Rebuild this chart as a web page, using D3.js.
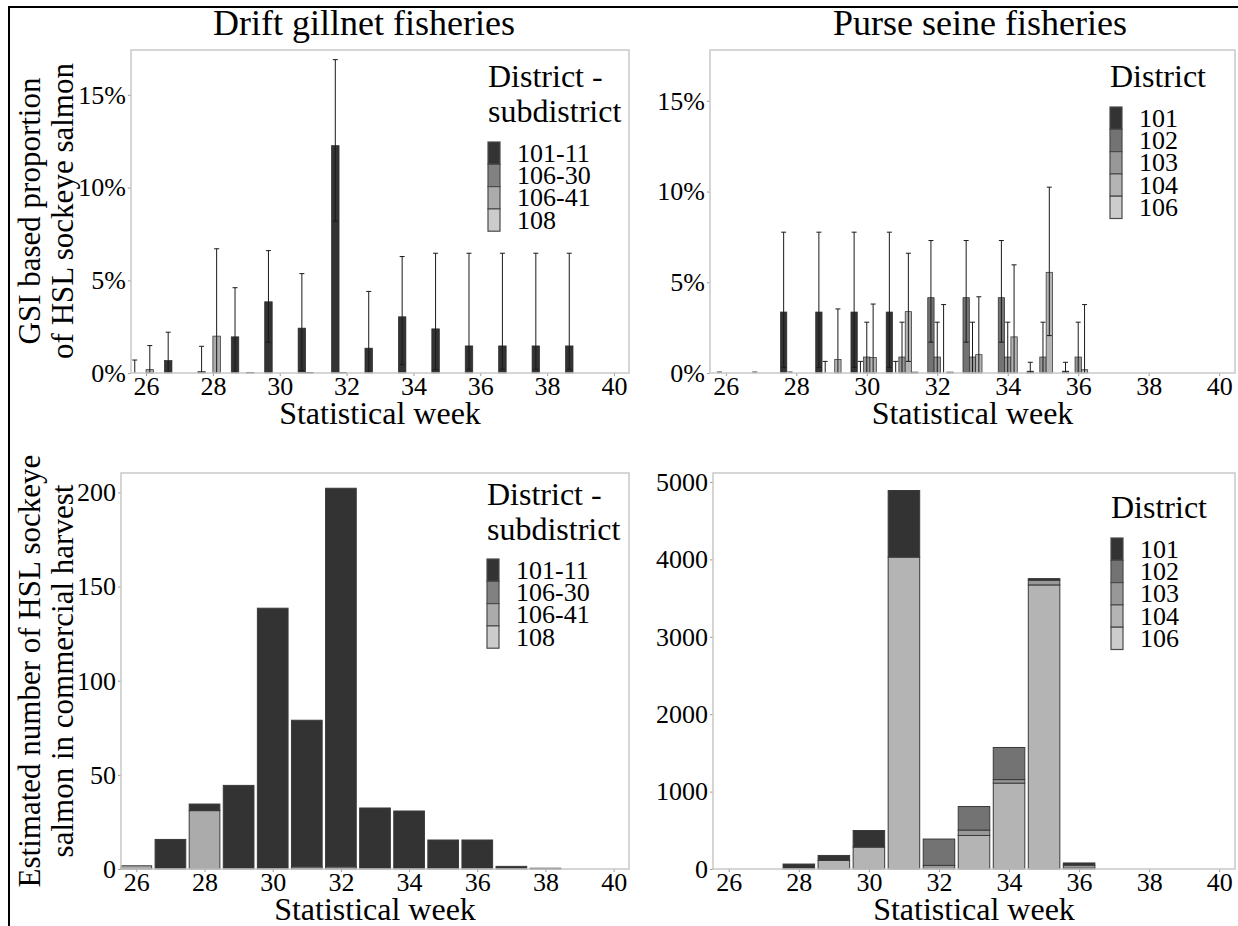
<!DOCTYPE html>
<meta charset="utf-8">
<style>
body { margin: 0; background: #fff; }
svg { display: block; }
svg text { font-family: "Liberation Serif", "Times New Roman", Times, serif; fill: #000; }
.axis text { font-size: 26px; }
.axis line { stroke: #9a9a9a; }
.axis path { display: none; }
.frame { fill: none; stroke: #c8c8c8; stroke-width: 1.5px; }
</style>
<body>
<script src="https://d3js.org/d3.v7.min.js"></script>
<script>

const SERIF = "Liberation Serif, Times New Roman, Times, serif";

// statistical weeks on the x axis
const weeks = d3.range(26, 41);
const weekTicks = [26, 28, 30, 32, 34, 36, 38, 40];

// drift gillnet: district - subdistrict
const gnDistricts = ["101-11", "106-30", "106-41", "108"];
const gnColors = ["#333333", "#818181", "#ababab", "#cccccc"];

// GSI proportion (%) by week, with lower / upper interval
const gnPct_101_11  = [0, 0.67, 0.07, 1.95, 3.84, 2.42, 12.26, 1.34, 3.03, 2.38, 1.46, 1.46, 1.46, 1.46, 0];
const gnLow_101_11  = [0, 0, 0, 0.04, 1.66, 0.13, 8.18, 0, 0.45, 0.18, 0.2, 0.2, 0.2, 0.2, null];
const gnHigh_101_11 = [0.7, 2.2, 1.44, 4.6, 6.6, 5.36, 16.9, 4.4, 6.28, 6.46, 6.46, 6.46, 6.46, 6.46, null];
const gnPct_106_30  = [0, 0, 0, 0, 0, 0.03, 0.03, 0, 0, 0, 0, 0, 0, 0, 0];
const gnPct_106_41  = [0.18, 0, 1.99, 0.02, 0, 0, 0, 0, 0, 0, 0, 0, 0, 0, 0];
const gnLow_106_41  = [0, null, 0, null, null, null, null, null, null, null, null, null, null, null, null];
const gnHigh_106_41 = [1.48, null, 6.7, null, null, null, null, null, null, null, null, null, null, null, null];
const gnPct_108     = [0, 0, 0, 0, 0, 0, 0, 0, 0, 0, 0, 0, 0, 0, 0];

// estimated number of HSL sockeye in drift gillnet harvest
const gnNum_101_11 = [0, 15.7, 3.5, 44.4, 138.5, 77.8, 201, 32.4, 30.8, 15.4, 15.4, 1.4, 0.4, 0, 0];
const gnNum_106_30 = [0, 0, 0, 0, 0, 1.2, 1.2, 0, 0, 0, 0, 0, 0, 0, 0];
const gnNum_106_41 = [1.7, 0, 31, 0, 0, 0, 0, 0, 0, 0, 0, 0, 0, 0, 0];
const gnNum_108    = [0, 0, 0, 0, 0, 0, 0, 0, 0, 0, 0, 0, 0, 0, 0];

// purse seine: district
const psDistricts = ["101", "102", "103", "104", "106"];
const psColors = ["#333333", "#737373", "#989898", "#b4b4b4", "#cccccc"];

const psPct_101  = [0, 0, 3.36, 3.36, 3.36, 3.36, 0, 0, 0, 0.1, 0.1, 0, 0, 0, 0];
const psLow_101  = [null, null, 0.31, 0.31, 0.31, 0.31, null, null, null, 0, 0, null, null, null, null];
const psHigh_101 = [null, null, 7.76, 7.76, 7.76, 7.76, null, null, null, 0.59, 0.59, null, null, null, null];
const psPct_102  = [0, 0, 0, 0, 0, 0, 4.15, 4.15, 4.15, 0, 0, 0, 0, 0, 0];
const psLow_102  = [0, 0, 0, 0, 0, 0, 1.7, 1.7, 1.7, null, null, null, null, null, null];
const psHigh_102 = [0.05, 0.05, 0.05, 0.64, 0.64, 0.64, 7.3, 7.3, 7.3, null, null, null, null, null, null];
const psPct_103  = [0, 0, 0, 0, 0.88, 0.88, 0.88, 0.88, 0.88, 0.88, 0.88, 0, 0, 0, 0];
const psLow_103  = [null, null, null, null, 0, 0, 0, 0, 0, 0, 0, null, null, null, null];
const psHigh_103 = [null, null, null, null, 2.8, 2.8, 2.8, 2.8, 2.8, 2.8, 2.8, null, null, null, null];
const psPct_104  = [0, 0, 0, 0.74, 0.85, 3.38, 0, 1.01, 1.99, 5.55, 0.18, 0, 0, 0, 0];
const psLow_104  = [null, null, null, 0, 0, 0.64, 0, 0, 0, 2.06, 0, null, null, null, null];
const psHigh_104 = [null, null, null, 3.53, 3.8, 6.6, 3.77, 4.2, 5.96, 10.24, 3.77, null, null, null, null];
const psPct_106  = [0, 0, 0, 0, 0, 0.05, 0.05, 0, 0, 0, 0, 0, 0, 0, 0];

// estimated number of HSL sockeye in purse seine harvest
const psNum_101 = [0, 0, 64, 64, 214, 861, 0, 0, 0, 22, 28, 0, 0, 0, 0];
const psNum_102 = [0, 0, 0, 0, 0, 0, 340, 304, 415, 0, 0, 0, 0, 0, 0];
const psNum_103 = [0, 0, 0, 0, 0, 0, 47, 70, 45, 60, 40, 0, 0, 0, 0];
const psNum_104 = [0, 0, 0, 111, 283, 4029, 0, 433, 1110, 3670, 10, 0, 0, 0, 0];
const psNum_106 = [0, 0, 0, 0, 0, 0, 0, 0, 0, 0, 0, 0, 0, 0, 0];

const pctTicks = [0, 5, 10, 15];
const gnNumTicks = [0, 50, 100, 150, 200];
const psNumTicks = [0, 1000, 2000, 3000, 4000, 5000];

const W = 1238, H = 926;
const svg = d3.select("body").append("svg").attr("width", W).attr("height", H)
    .attr("font-family", SERIF);

// outer figure frame (only top and left edges are inside the picture)
svg.append("path")
    .attr("d", "M9,940 V7 H1250")
    .attr("fill", "none").attr("stroke", "#000").attr("stroke-width", 2);

// column titles
svg.append("text").attr("x", 364).attr("y", 35).attr("text-anchor", "middle")
    .style("font-size", "36px").text("Drift gillnet fisheries");
svg.append("text").attr("x", 980).attr("y", 35).attr("text-anchor", "middle")
    .style("font-size", "36px").text("Purse seine fisheries");

// y titles (two lines, rotated)
function yTitle(lines, cy) {
  lines.forEach((t, i) => {
    const x = 40 + i * 33;
    svg.append("text")
      .attr("transform", `translate(${x},${cy}) rotate(-90)`)
      .attr("text-anchor", "middle")
      .style("font-size", "31px")
      .text(t);
  });
}
yTitle(["GSI based proportion", "of HSL sockeye salmon"], 211);
yTitle(["Estimated number of HSL sockeye", "salmon in commercial harvest"], 671);

function makePanel(box, yMax, yTicks, yFmt) {
  const x = d3.scaleLinear().domain([25.55, 40.45]).range([box.x0, box.x1]);
  const y = d3.scaleLinear().domain([0, yMax]).range([box.y1, box.y0]);
  const g = svg.append("g");

  g.append("g").attr("class", "axis")
    .attr("transform", `translate(${box.x0},0)`)
    .call(d3.axisLeft(y).tickValues(yTicks).tickFormat(yFmt).tickSize(3).tickPadding(2))
    .attr("font-family", SERIF).attr("font-size", 26);

  g.append("g").attr("class", "axis")
    .attr("transform", `translate(0,${box.y1})`)
    .call(d3.axisBottom(x).tickValues(weekTicks).tickFormat(d3.format("d")).tickSize(3).tickPadding(1))
    .attr("font-family", SERIF).attr("font-size", 26);

  g.append("text")
    .attr("x", (box.x0 + box.x1) / 2).attr("y", box.y1 + 51)
    .attr("text-anchor", "middle").style("font-size", "32px")
    .text("Statistical week");

  return {x, y, g, box};
}

function frame(p) {
  p.g.append("rect").attr("class", "frame")
    .attr("x", p.box.x0).attr("y", p.box.y0)
    .attr("width", p.box.x1 - p.box.x0).attr("height", p.box.y1 - p.box.y0);
}

// dodged bars with error bars
function dodged(p, series, colors) {
  const n = series.length, bw = 0.9 / n;
  series.forEach((s, i) => {
    const off = -0.45 + (i + 0.5) * bw;
    const rows = weeks.map((w, k) => ({w, v: s.v[k], lo: s.lo ? s.lo[k] : null, hi: s.hi ? s.hi[k] : null}));
    p.g.append("g").selectAll("rect")
      .data(rows.filter(d => d.v > 0))
      .join("rect")
      .attr("x", d => p.x(d.w + off - bw / 2))
      .attr("width", d => p.x(d.w + off + bw / 2) - p.x(d.w + off - bw / 2))
      .attr("y", d => p.y(d.v))
      .attr("height", d => p.y(0) - p.y(d.v))
      .attr("fill", colors[i])
      .attr("stroke", "#2a2a2a").attr("stroke-width", 0.7);

    const eb = rows.filter(d => d.hi != null);
    const cap = 2.5;
    const eg = p.g.append("g").attr("stroke", "#1a1a1a").attr("stroke-width", 1);
    eg.selectAll("line.v").data(eb).join("line").attr("class", "v")
      .attr("x1", d => p.x(d.w + off)).attr("x2", d => p.x(d.w + off))
      .attr("y1", d => p.y(d.lo || 0)).attr("y2", d => p.y(d.hi));
    eg.selectAll("line.t").data(eb).join("line").attr("class", "t")
      .attr("x1", d => p.x(d.w + off) - cap).attr("x2", d => p.x(d.w + off) + cap)
      .attr("y1", d => p.y(d.hi)).attr("y2", d => p.y(d.hi));
    eg.selectAll("line.b").data(eb.filter(d => d.lo > 0)).join("line").attr("class", "b")
      .attr("x1", d => p.x(d.w + off) - cap).attr("x2", d => p.x(d.w + off) + cap)
      .attr("y1", d => p.y(d.lo)).attr("y2", d => p.y(d.lo));
  });
}

// stacked bars: first level on top, last level at the bottom
function stacked(p, keys, arrays, colors) {
  const table = weeks.map((w, k) => {
    const row = {w};
    keys.forEach((key, i) => row[key] = arrays[i][k]);
    return row;
  });
  const order = keys.slice().reverse();
  const stack = d3.stack().keys(order)(table);
  stack.forEach(layer => {
    const ci = keys.indexOf(layer.key);
    p.g.append("g").selectAll("rect")
      .data(layer.filter(d => d[1] - d[0] > 0))
      .join("rect")
      .attr("x", d => p.x(d.data.w - 0.45))
      .attr("width", d => p.x(d.data.w + 0.45) - p.x(d.data.w - 0.45))
      .attr("y", d => p.y(d[1]))
      .attr("height", d => p.y(d[0]) - p.y(d[1]))
      .attr("fill", colors[ci])
      .attr("stroke", "#3a3a3a").attr("stroke-width", 1);
  });
}

function legend(x, titleLines, titleY, keyTop, labels, colors) {
  const lg = svg.append("g");
  titleLines.forEach((t, i) => {
    lg.append("text").attr("x", x).attr("y", titleY + i * 35)
      .style("font-size", "32px").text(t);
  });
  const kh = 22.3;
  lg.selectAll("rect").data(labels).join("rect")
    .attr("x", x).attr("y", (d, i) => keyTop + i * kh)
    .attr("width", 12).attr("height", kh)
    .attr("fill", (d, i) => colors[i])
    .attr("stroke", "#4a4a4a").attr("stroke-width", 1.2);
  lg.selectAll("text.lab").data(labels).join("text").attr("class", "lab")
    .attr("x", x + 29).attr("y", (d, i) => keyTop + i * kh + kh / 2)
    .attr("dominant-baseline", "central")
    .style("font-size", "26px").text(d => d);
}

const pctFmt = d => d + "%";

// top-left: drift gillnet GSI proportions
const pTL = makePanel({x0: 131, x1: 629, y0: 50, y1: 373}, 17.42, pctTicks, pctFmt);
dodged(pTL, [
  {v: gnPct_101_11, lo: gnLow_101_11, hi: gnHigh_101_11},
  {v: gnPct_106_30},
  {v: gnPct_106_41, lo: gnLow_106_41, hi: gnHigh_106_41},
  {v: gnPct_108}
], gnColors);
frame(pTL);
legend(488, ["District -", "subdistrict"], 87, 142, gnDistricts, gnColors);

// top-right: purse seine GSI proportions
const pTR = makePanel({x0: 710, x1: 1235, y0: 50, y1: 373}, 17.8, pctTicks, pctFmt);
dodged(pTR, [
  {v: psPct_101, lo: psLow_101, hi: psHigh_101},
  {v: psPct_102, lo: psLow_102, hi: psHigh_102},
  {v: psPct_103, lo: psLow_103, hi: psHigh_103},
  {v: psPct_104, lo: psLow_104, hi: psHigh_104},
  {v: psPct_106}
], psColors);
frame(pTR);
legend(1110, ["District"], 87, 107, psDistricts, psColors);

// bottom-left: drift gillnet estimated numbers
const pBL = makePanel({x0: 121, x1: 629, y0: 473, y1: 869}, 210.3, gnNumTicks, d3.format("d"));
stacked(pBL, gnDistricts, [gnNum_101_11, gnNum_106_30, gnNum_106_41, gnNum_108], gnColors);
frame(pBL);
legend(487, ["District -", "subdistrict"], 505, 559, gnDistricts, gnColors);

// bottom-right: purse seine estimated numbers
const pBR = makePanel({x0: 713, x1: 1235, y0: 473, y1: 869}, 5116, psNumTicks, d3.format("d"));
stacked(pBR, psDistricts, [psNum_101, psNum_102, psNum_103, psNum_104, psNum_106], psColors);
frame(pBR);
legend(1111, ["District"], 518, 538, psDistricts, psColors);

</script>
</body>
